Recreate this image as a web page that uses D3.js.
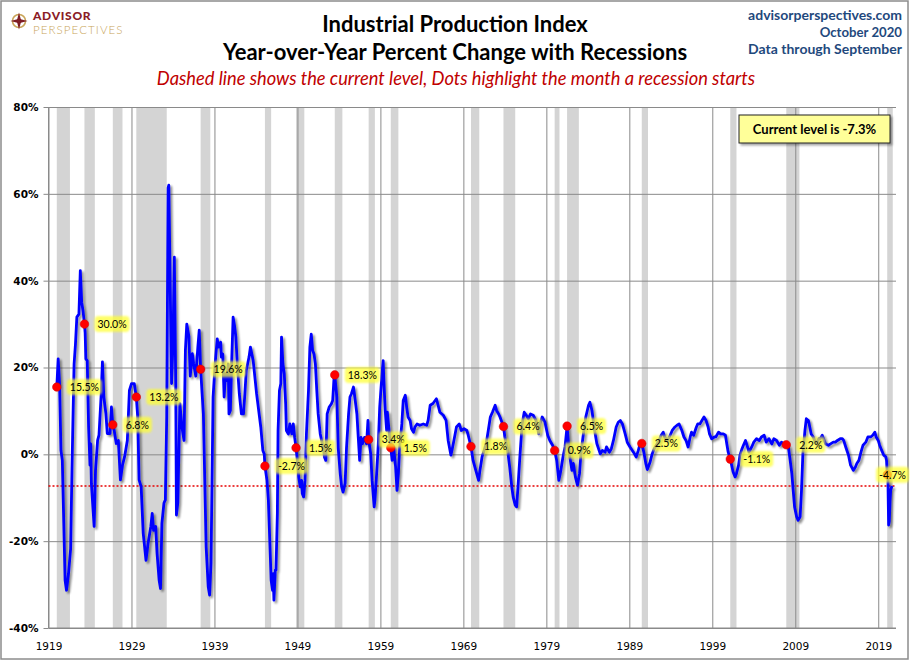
<!DOCTYPE html>
<html>
<head>
<meta charset="utf-8">
<script src="https://cdn.jsdelivr.net/npm/d3@7"></script>
<style>
  body { margin: 0; background: #fff; }
  svg text { font-family: Lato, "Open Sans", sans-serif; }
  .axis text { font-family: "DejaVu Sans", sans-serif; fill: #000; }
  .axis path { display: none; }
</style>
</head>
<body>
<div id="chart"></div>
<script>
"use strict";

// == DATA ==
// monthly YoY change of the industrial production index, one entry per turning point
var ipMonths = [
  "1920-01","1920-03","1920-05","1920-07","1920-09","1921-01","1921-03","1921-06","1921-09","1921-11",
  "1922-02","1922-04","1922-06","1922-09","1922-11","1923-01","1923-03","1923-05","1923-06","1923-07","1923-09","1923-11",
  "1924-01","1924-02","1924-03","1924-07","1924-09","1924-12","1925-02","1925-05","1925-07","1925-09","1925-12",
  "1926-02","1926-06","1926-08","1926-10","1926-12","1927-03","1927-06","1927-09","1927-12",
  "1928-03","1928-07","1928-10","1929-01","1929-05","1929-08","1929-10","1929-12",
  "1930-03","1930-06","1930-10","1931-01","1931-05","1931-07","1931-09","1931-12",
  "1932-02","1932-05","1932-07","1932-09","1932-12","1933-02","1933-04","1933-06","1933-07","1933-09","1933-11",
  "1934-01","1934-03","1934-05","1934-06","1934-08","1934-11","1935-02","1935-05","1935-07","1935-09","1935-12",
  "1936-02","1936-05","1936-07","1936-10","1937-01","1937-03","1937-05","1937-09",
  "1938-01","1938-04","1938-06","1938-08","1938-11","1939-02","1939-05","1939-07","1939-10","1939-11",
  "1940-01","1940-03","1940-05","1940-07","1940-09","1940-10","1940-12","1941-02","1941-04","1941-06","1941-08","1941-10",
  "1942-01","1942-04","1942-07","1942-09","1942-11","1943-03","1943-05","1943-09","1943-12",
  "1944-02","1944-05","1944-08","1944-11","1945-01","1945-02","1945-05","1945-07","1945-09","1945-11",
  "1946-01","1946-02","1946-03","1946-05","1946-06","1946-08","1946-09","1946-11","1947-01","1947-02","1947-04","1947-06","1947-08","1947-09","1947-12",
  "1948-02","1948-05","1948-07","1948-09","1948-11","1949-01","1949-03","1949-05","1949-07","1949-08","1949-10","1949-12",
  "1950-02","1950-05","1950-07","1950-09","1950-11","1951-01","1951-03","1951-05","1951-07","1951-10","1951-12",
  "1952-03","1952-04","1952-06","1952-08","1952-11","1953-02","1953-04","1953-06","1953-07","1953-10","1953-12",
  "1954-03","1954-05","1954-07","1954-10","1954-12","1955-03","1955-05","1955-07","1955-10","1955-12",
  "1956-03","1956-05","1956-07","1956-09","1956-11","1957-02","1957-05","1957-07","1957-08","1957-11",
  "1958-01","1958-04","1958-05","1958-07","1958-10","1958-12","1959-03","1959-05","1959-06","1959-08","1959-10","1959-11",
  "1960-02","1960-04","1960-06","1960-08","1960-11","1961-01","1961-03","1961-05","1961-08","1961-10",
  "1962-01","1962-03","1962-05","1962-08","1962-10","1963-01","1963-03","1963-06","1963-10",
  "1964-03","1964-08","1964-10","1965-01","1965-05","1965-10",
  "1966-03","1966-08","1966-12","1967-03","1967-07","1967-10",
  "1968-03","1968-07","1968-10","1969-02","1969-06","1969-08","1969-12",
  "1970-03","1970-07","1970-11","1971-01","1971-04","1971-07","1971-10",
  "1972-01","1972-04","1972-07","1972-11","1973-01","1973-04","1973-06","1973-11",
  "1974-01","1974-05","1974-08","1974-11","1975-01","1975-04","1975-06","1975-08","1975-11",
  "1976-02","1976-05","1976-08","1976-11","1977-02","1977-06","1977-10",
  "1978-02","1978-04","1978-07","1978-11","1979-03","1979-06","1979-10",
  "1980-01","1980-04","1980-07","1980-10","1981-01","1981-04","1981-07","1981-09","1981-11",
  "1982-02","1982-04","1982-07","1982-10","1983-01","1983-03","1983-06","1983-10",
  "1984-02","1984-04","1984-07","1984-10","1985-02","1985-07","1985-10",
  "1986-02","1986-04","1986-08","1986-11","1987-02","1987-06","1987-09","1987-12",
  "1988-03","1988-07","1988-10","1989-02","1989-07","1989-11",
  "1990-02","1990-04","1990-07","1990-10","1991-01","1991-03","1991-07","1991-10",
  "1992-01","1992-04","1992-08","1992-11","1993-02","1993-04","1993-08","1993-11",
  "1994-03","1994-07","1994-10","1995-01","1995-05","1995-08","1995-11",
  "1996-02","1996-05","1996-07","1996-10","1997-02","1997-04","1997-07","1997-10",
  "1998-01","1998-04","1998-07","1998-09","1998-12","1999-04","1999-06","1999-10",
  "2000-01","2000-05","2000-08","2000-10","2000-12","2001-03","2001-05","2001-07","2001-10","2001-12",
  "2002-03","2002-05","2002-08","2002-10","2003-01","2003-04","2003-06","2003-10",
  "2004-01","2004-05","2004-09","2004-12","2005-04","2005-07","2005-11",
  "2006-03","2006-06","2006-10","2007-02","2007-05","2007-08","2007-12",
  "2008-03","2008-05","2008-08","2008-10","2008-12","2009-03","2009-05","2009-08","2009-10","2009-12",
  "2010-03","2010-05","2010-08","2010-10","2010-12","2011-03","2011-05","2011-08","2011-11",
  "2012-01","2012-04","2012-06","2012-09","2013-01","2013-04","2013-08","2013-11",
  "2014-02","2014-06","2014-09","2014-11","2015-02","2015-06","2015-09",
  "2016-01","2016-04","2016-06","2016-09","2016-12","2017-03","2017-07","2017-10",
  "2018-02","2018-05","2018-08","2018-10","2019-01","2019-03","2019-06","2019-09","2019-12",
  "2020-01","2020-02","2020-03","2020-04","2020-05","2020-06","2020-07","2020-08","2020-09"
];

var ipYoY = [
  15.5,22.0,16.2,0.9,-1.4,-29.0,-31.3,-27.4,-21.8,-2.9,
  20.8,25.4,31.6,32.3,42.3,35.0,33.0,30.0,28.0,22.0,21.6,6.3,
  -2.5,2.4,-6.7,-16.6,-3.7,3.2,4.4,13.2,21.3,13.2,9.4,
  4.8,4.8,10.9,6.8,5.5,2.5,3.2,-5.9,-2.5,
  -0.6,3.2,14.7,16.3,16.3,13.2,8.7,-5.9,
  -7.5,-18.2,-24.4,-20.5,-16.6,-13.6,-17.5,-16.6,
  -22.8,-29.0,-30.9,-15.9,-11.2,-10.5,8.7,61.4,62.0,39.2,16.3,
  25.5,45.4,16.3,-14.0,-11.2,11.7,6.3,3.2,24.0,30.0,27.2,
  18.0,23.2,20.8,18.0,24.7,28.6,19.6,9.3,
  -21.3,-30.5,-32.4,-25.1,13.2,20.8,26.6,24.7,25.8,22.4,
  23.1,13.2,18.6,17.0,20.8,9.3,10.1,21.6,31.6,29.7,27.0,20.8,
  13.9,9.3,9.3,13.9,19.3,22.4,24.7,21.6,17.0,
  13.9,10.1,6.3,0.9,0.1,-2.7,-6.0,-10.6,-19.8,-29.0,
  -31.3,-27.5,-33.6,-26.7,-26.7,-13.6,5.5,14.7,16.3,27.0,20.8,18.5,11.6,5.5,4.7,
  7.0,4.7,7.0,3.9,1.5,-1.6,-5.4,-7.5,-6.0,-9.0,-9.8,-6.0,
  4.7,14.7,24.7,27.7,23.9,23.1,20.8,14.7,9.3,4.7,3.2,
  0.9,-0.6,-1.4,9.3,10.9,11.6,12.4,17.8,18.3,13.2,1.5,
  -4.6,-7.5,-8.7,-6.7,1.5,9.3,13.2,13.9,15.5,13.2,
  9.3,3.9,-1.4,3.9,2.4,3.9,2.4,7.8,3.4,0.1,
  -6.0,-12.1,-10.6,-6.0,2.4,10.9,17.8,21.6,17.0,10.1,5.5,9.7,
  4.7,1.5,-1.4,1.7,-2.9,-8.3,-4.4,1.7,7.0,12.4,
  13.6,10.9,8.6,7.8,5.9,5.1,6.3,7.0,6.7,
  7.0,6.7,7.8,11.3,11.7,12.8,
  9.7,9.0,7.8,3.2,-0.2,2.1,
  6.3,7.0,5.5,5.9,5.5,4.4,1.8,
  -1.4,-3.7,-6.0,-3.7,-0.6,0.9,2.5,
  5.5,8.6,9.7,11.3,10.1,9.3,8.6,6.4,
  4.0,0.9,-2.9,-7.5,-9.8,-11.7,-12.1,-7.5,0.1,
  7.0,9.7,9.0,8.2,9.3,9.0,7.8,
  4.7,7.0,8.6,7.4,4.4,3.2,2.1,
  0.9,-1.4,-6.0,-3.7,-0.6,1.7,6.5,2.5,-0.6,
  -3.7,-2.1,-5.2,-7.1,-4.4,0.1,4.0,8.6,
  11.3,12.0,10.1,6.3,2.5,0.1,0.9,
  0.5,1.7,0.5,1.3,3.2,6.3,7.4,7.8,
  7.0,4.7,2.8,1.7,0.5,-0.6,
  0.9,2.1,2.5,0.5,-2.2,-3.5,-1.8,0.1,
  1.3,2.1,3.2,4.4,5.1,4.0,3.2,4.0,
  5.5,6.3,6.7,7.0,5.5,4.0,3.2,
  1.7,4.0,5.1,4.4,6.3,7.0,7.0,7.8,
  8.6,7.8,6.3,4.7,3.6,4.0,4.0,5.1,
  4.7,4.7,4.4,2.4,0.5,-1.1,-2.5,-4.0,-5.2,-4.4,
  -2.5,-0.2,1.3,2.1,3.2,1.7,0.5,1.7,
  2.8,3.6,3.2,4.0,4.4,2.8,3.6,
  2.4,3.6,3.2,2.1,2.8,2.4,2.2,
  1.7,-0.6,-4.4,-8.3,-12.1,-14.4,-15.2,-14.4,-8.3,0.1,
  5.5,8.2,7.8,6.3,4.7,4.0,3.2,2.4,3.6,
  3.6,4.4,3.6,2.4,2.1,2.4,2.8,2.8,
  3.2,3.6,3.6,3.2,1.7,-0.2,-2.5,
  -3.7,-2.9,-2.1,-1.4,0.5,2.1,2.8,4.0,
  4.0,4.4,5.1,4.0,3.2,2.1,0.9,-0.2,-0.6,
  -1.4,-4.7,-5.5,-16.3,-15.4,-10.8,-8.2,-7.7,-7.3
];

// NBER recessions (first and last month)
var recessionStarts = ["1920-01","1923-05","1926-10","1929-08","1937-05","1945-02","1948-11","1953-07","1957-08",
                       "1960-04","1969-12","1973-11","1980-01","1981-07","1990-07","2001-03","2007-12","2020-02"];
var recessionEnds   = ["1921-07","1924-07","1927-11","1933-03","1938-06","1945-10","1949-10","1954-05","1958-04",
                       "1961-02","1970-11","1975-03","1980-07","1982-11","1991-03","2001-11","2009-06","2020-09"];
// YoY value in the month each recession starts (the red dots)
var recessionStartValues = [15.5, 30.0, 6.8, 13.2, 19.6, -2.7, 1.5, 18.3, 3.4,
                            1.5, 1.8, 6.4, 0.9, 6.5, 2.5, -1.1, 2.2, -4.7];

var currentLevel = -7.3;
var yearTicks = [1919, 1929, 1939, 1949, 1959, 1969, 1979, 1989, 1999, 2009, 2019];
var pctTicks = [-40, -20, 0, 20, 40, 60, 80];

// "1933-06" -> 1933.417
var toYear = function(s) {
  var p = s.split("-");
  return +p[0] + (+p[1] - 1) / 12;
};

// plain hyphen minus, like the original labels
var pct = function(v) { return v.toFixed(1) + "%"; };

// == BOILERPLATE ==
var W = 910, H = 661;
var plot = { left: 48.5, right: 896, top: 107, bottom: 628 };

var svg = d3.select("#chart")
            .append("svg")
            .attr("width", W)
            .attr("height", H);

var defs = svg.append("defs");

var shadow = defs.append("filter").attr("id", "shadow")
                 .attr("x", "-5%").attr("y", "-5%").attr("width", "110%").attr("height", "110%");
shadow.append("feGaussianBlur").attr("in", "SourceAlpha").attr("stdDeviation", 1.3).attr("result", "blur");
shadow.append("feOffset").attr("in", "blur").attr("dx", 2).attr("dy", 2).attr("result", "off");
shadow.append("feComponentTransfer").attr("in", "off").attr("result", "soft")
      .append("feFuncA").attr("type", "linear").attr("slope", 0.45);
var merge = shadow.append("feMerge");
merge.append("feMergeNode").attr("in", "soft");
merge.append("feMergeNode").attr("in", "SourceGraphic");

var glow = defs.append("filter").attr("id", "glow")
               .attr("x", "-20%").attr("y", "-40%").attr("width", "140%").attr("height", "180%");
glow.append("feGaussianBlur").attr("stdDeviation", 1.2);

var boxShadow = defs.append("filter").attr("id", "boxshadow")
                    .attr("x", "-10%").attr("y", "-20%").attr("width", "130%").attr("height", "160%");
boxShadow.append("feDropShadow").attr("dx", 2).attr("dy", 2).attr("stdDeviation", 1.2)
         .attr("flood-color", "#000").attr("flood-opacity", 0.35);

// chart border
svg.append("rect")
   .attr("x", 1).attr("y", 1).attr("width", W - 3).attr("height", H - 3)
   .attr("fill", "#fff").attr("stroke", "#8c8c8c").attr("stroke-width", 1.5);

// == SCALES ==
var x = d3.scaleLinear()
          .domain([1919, 2021.14])
          .range([plot.left, plot.right]);

var y = d3.scaleLinear()
          .domain([-40, 80])
          .range([plot.bottom, plot.top]);

// == HEADER ==
// logo
var logo = svg.append("g").attr("transform", "translate(19,21)");
logo.append("circle").attr("r", 6.5).attr("fill", "none").attr("stroke", "#c9a55a").attr("stroke-width", 1.6);
logo.append("path")
    .attr("d", "M0,-8.5 L1.8,-1.8 L8.5,0 L1.8,1.8 L0,8.5 L-1.8,1.8 L-8.5,0 L-1.8,-1.8Z")
    .attr("fill", "#7f1d24");
logo.append("circle").attr("r", 2.2).attr("fill", "#7f1d24");

svg.append("text").attr("x", 33).attr("y", 19.5)
   .attr("font-size", "12px").attr("font-weight", "900").attr("fill", "#8b1c26")
   .attr("letter-spacing", "0.7px")
   .text("ADVISOR");
svg.append("text").attr("x", 33).attr("y", 33.5)
   .attr("font-size", "11.5px").attr("font-weight", "300").attr("fill", "#c9a55a")
   .attr("letter-spacing", "1.1px")
   .text("PERSPECTIVES");

svg.append("text").attr("x", 455).attr("y", 32)
   .attr("text-anchor", "middle").attr("font-size", "22px").attr("font-weight", "bold")
   .text("Industrial Production Index");
svg.append("text").attr("x", 455).attr("y", 60)
   .attr("text-anchor", "middle").attr("font-size", "22px").attr("font-weight", "bold")
   .text("Year-over-Year Percent Change with Recessions");
svg.append("text").attr("x", 456).attr("y", 85)
   .attr("text-anchor", "middle").attr("font-size", "18.3px").attr("font-style", "italic")
   .attr("fill", "#c00000")
   .text("Dashed line shows the current level, Dots highlight the month a recession starts");

var rightHead = ["advisorperspectives.com", "October 2020", "Data through September"];
var rightSize = [14, 13.2, 14];
svg.selectAll(".righthead")
   .data(rightHead)
   .enter()
   .append("text")
   .attr("class", "righthead")
   .attr("x", 902)
   .attr("y", function(d, i) { return 20 + i * 17; })
   .attr("text-anchor", "end")
   .attr("font-size", function(d, i) { return rightSize[i] + "px"; })
   .attr("font-weight", "bold")
   .attr("fill", "#1f497d")
   .text(function(d) { return d; });

// == RECESSION BANDS ==
svg.selectAll(".band")
   .data(recessionStarts)
   .enter()
   .append("rect")
   .attr("class", "band")
   .attr("x", function(d) { return x(toYear(d)); })
   .attr("y", plot.top)
   .attr("width", function(d, i) { return x(toYear(recessionEnds[i]) + 1 / 12) - x(toYear(d)); })
   .attr("height", plot.bottom - plot.top)
   .attr("fill", "#d4d4d4");

// == GRID + AXES ==
svg.append("g")
   .attr("transform", "translate(0," + plot.bottom + ")")
   .call(d3.axisBottom(x).tickValues(yearTicks).tickSize(-(plot.bottom - plot.top)).tickFormat(""))
   .call(function(g) { g.select(".domain").remove(); })
   .selectAll("line").attr("stroke", "#8a8a8a");

svg.append("g")
   .attr("transform", "translate(" + plot.left + ",0)")
   .call(d3.axisLeft(y).tickValues(pctTicks).tickSize(-(plot.right - plot.left)).tickFormat(""))
   .call(function(g) { g.select(".domain").remove(); })
   .selectAll("line").attr("stroke", "#8a8a8a");

// plot border (left + bottom)
svg.append("path")
   .attr("d", "M" + plot.left + "," + plot.top + "V" + plot.bottom + "H" + plot.right)
   .attr("fill", "none").attr("stroke", "#8a8a8a");

var yAxis = svg.append("g")
   .attr("class", "axis")
   .attr("transform", "translate(" + plot.left + ",0)")
   .call(d3.axisLeft(y).tickValues(pctTicks).tickSizeInner(5).tickSizeOuter(0).tickPadding(5)
           .tickFormat(function(d) { return d + "%"; }));
yAxis.selectAll("line").attr("stroke", "#8a8a8a");
yAxis.selectAll("text").attr("font-size", "10.5px").attr("font-weight", "bold");

var xAxis = svg.append("g")
   .attr("class", "axis")
   .attr("transform", "translate(0," + plot.bottom + ")")
   .call(d3.axisBottom(x).tickValues(yearTicks).tickSize(0).tickPadding(15)
           .tickFormat(d3.format("d")));
xAxis.selectAll("text").attr("font-size", "10.5px");

// current level (dotted red)
svg.append("line")
   .attr("x1", plot.left).attr("x2", plot.right)
   .attr("y1", y(currentLevel)).attr("y2", y(currentLevel))
   .attr("stroke", "#e60000").attr("stroke-width", 1.5).attr("stroke-dasharray", "2,2");

// == THE LINE ==
var series = ipMonths.map(function(m, i) { return { t: toYear(m), v: ipYoY[i] }; });

var line = d3.line()
             .x(function(d) { return x(d.t); })
             .y(function(d) { return y(d.v); });

svg.append("path")
   .datum(series)
   .attr("d", line)
   .attr("fill", "none")
   .attr("stroke", "#0000ff")
   .attr("stroke-width", 2.8)
   .attr("stroke-linejoin", "round")
   .attr("filter", "url(#shadow)");

// == RECESSION START DOTS + LABELS ==
var starts = recessionStarts.map(function(m, i) {
  return { t: toYear(m), v: recessionStartValues[i] };
});

svg.selectAll(".dot")
   .data(starts)
   .enter()
   .append("circle")
   .attr("class", "dot")
   .attr("cx", function(d) { return x(d.t); })
   .attr("cy", function(d) { return y(d.v); })
   .attr("r", 4.3)
   .attr("fill", "#ff0000")
   .attr("stroke", "#d00000")
   .attr("stroke-width", 0.5);

var labels = svg.selectAll(".lbl")
   .data(starts)
   .enter()
   .append("g")
   .attr("class", "lbl");

labels.each(function(d) {
  var g = d3.select(this);
  var bg = g.append("rect");
  var t = g.append("text")
           .attr("font-family", "'DejaVu Sans', sans-serif")
           .attr("font-size", "10.5px")
           .attr("fill", "#000")
           .attr("dy", "0.36em")
           .text(pct(d.v));
  var w = t.node().getComputedTextLength();
  // keep the label inside the chart frame
  var tx = Math.min(x(d.t) + 13, W - 4 - w);
  t.attr("x", tx).attr("y", y(d.v));
  bg.attr("x", tx - 3).attr("y", y(d.v) - 8)
    .attr("width", w + 6).attr("height", 16)
    .attr("rx", 4)
    .attr("fill", "#ffff33")
    .attr("opacity", 0.72)
    .attr("filter", "url(#glow)");
});

// == CURRENT LEVEL BOX ==
svg.append("rect")
   .attr("x", 739).attr("y", 115).attr("width", 151).attr("height", 28)
   .attr("fill", "#ffff99").attr("stroke", "#222").attr("stroke-width", 1)
   .attr("filter", "url(#boxshadow)");
svg.append("text")
   .attr("x", 814.5).attr("y", 134)
   .attr("text-anchor", "middle").attr("font-size", "13px").attr("font-weight", "bold")
   .text("Current level is " + pct(currentLevel));
</script>
</body>
</html>
